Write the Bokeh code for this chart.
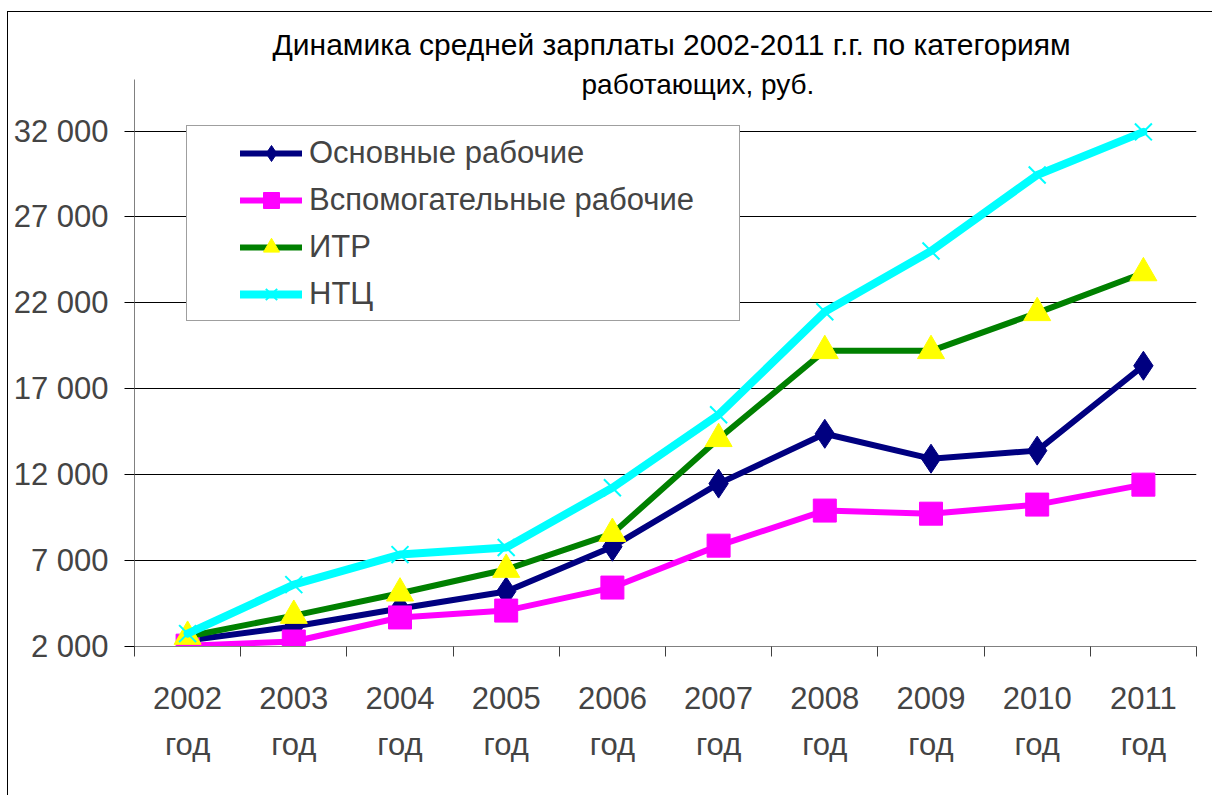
from bokeh.plotting import figure
from bokeh.models import (ColumnDataSource, Range1d, FixedTicker, LinearAxis,
                          Legend, LegendItem, Label)
from bokeh.embed import file_html
from bokeh.resources import INLINE

# ---------------- data ----------------
years = ["2002", "2003", "2004", "2005", "2006", "2007", "2008", "2009", "2010", "2011"]
year_suffix = "год"
osnovnye = [2350, 3160, 4210, 5200, 7810, 11480, 14380, 12930, 13400, 18340]
vspomogatelnye = [2050, 2290, 3690, 4090, 5430, 7870, 9910, 9730, 10260, 11420]
itr = [2580, 3800, 5100, 6480, 8570, 14090, 19210, 19210, 21420, 23740]
ntc = [2750, 5600, 7350, 7760, 11240, 15490, 21480, 25020, 29440, 31950]
series_names = ["Основные рабочие", "Вспомогательные рабочие", "ИТР", "НТЦ"]
y_ticks = [2000, 7000, 12000, 17000, 22000, 27000, 32000]
y_axis_bounds = (2000, 35000)
title_lines = ["Динамика средней зарплаты 2002-2011 г.г. по категориям", "работающих, руб."]

FONT = "Liberation Sans"

# layout constants (pixels)
FRAME_H = 626           # frame extends above the value axis so the title can sit inside it
AXIS_H = 567            # pixel height of the value-axis span 2000..35000
y_top = y_axis_bounds[0] + FRAME_H * (y_axis_bounds[1] - y_axis_bounds[0]) / AXIS_H

n = len(years)
xpos = [i + 0.5 for i in range(n)]  # category centres
src = ColumnDataSource(dict(x=xpos, year=years, s0=osnovnye, s1=vspomogatelnye, s2=itr, s3=ntc))

p = figure(width=1205, height=784, x_range=Range1d(0, n),
           y_range=Range1d(y_axis_bounds[0], y_top), output_backend="svg", toolbar_location=None,
           min_border_left=126, min_border_right=17, min_border_top=8, min_border_bottom=150,
           background_fill_color="white", border_fill_color="white", outline_line_color=None)
p.styles = {"border-top": "1px solid black", "border-left": "1px solid black",
            "margin-top": "11px", "margin-left": "7px"}

# two-line title (inside the frame, above the value axis)
p.add_layout(Label(x=138, y=602, x_units="screen", y_units="screen", text=title_lines[0],
                   text_align="left", text_baseline="alphabetic", text_font=FONT,
                   text_font_size="30px", text_color="black"))
p.add_layout(Label(x=447, y=562, x_units="screen", y_units="screen", text=title_lines[1],
                   text_align="left", text_baseline="alphabetic", text_font=FONT,
                   text_font_size="28px", text_color="black"))

# y axis
yax = p.yaxis[0]
yax.bounds = y_axis_bounds
yax.ticker = FixedTicker(ticks=y_ticks)
yax.major_label_overrides = {t: f"{t:,}".replace(",", " ") for t in y_ticks}
yax.major_tick_out = 10
yax.major_tick_in = 0
yax.minor_tick_line_color = None
yax.axis_line_color = "#808080"
yax.major_tick_line_color = "black"
yax.major_label_text_font = FONT
yax.major_label_text_font_size = "31px"
yax.major_label_standoff = 16
p.ygrid.grid_line_color = "black"
p.ygrid.grid_line_width = 1
p.xgrid.visible = False

# x axes: boundary ticks, years, "год"
bounds_axis = p.xaxis[0]
bounds_axis.ticker = FixedTicker(ticks=list(range(n + 1)))
bounds_axis.major_tick_in = 0
bounds_axis.major_tick_out = 10
bounds_axis.minor_tick_line_color = None
bounds_axis.axis_line_color = "#808080"
bounds_axis.major_tick_line_color = "#404040"
bounds_axis.major_label_text_font_size = "1px"
bounds_axis.major_label_standoff = 0
bounds_axis.major_label_text_alpha = 0

year_axis = LinearAxis(ticker=FixedTicker(ticks=xpos),
                       major_label_overrides={x: y for x, y in zip(xpos, years)},
                       axis_line_color=None, major_tick_line_color=None, minor_tick_line_color=None,
                       major_tick_in=0, major_tick_out=0, major_label_standoff=30,
                       major_label_text_font=FONT, major_label_text_font_size="31px")
god_axis = LinearAxis(ticker=FixedTicker(ticks=xpos),
                      major_label_overrides={x: year_suffix for x in xpos},
                      axis_line_color=None, major_tick_line_color=None, minor_tick_line_color=None,
                      major_tick_in=0, major_tick_out=0, major_label_standoff=15,
                      major_label_text_font=FONT, major_label_text_font_size="31px")
p.below = [bounds_axis, year_axis, god_axis]

# series
styles = [
    dict(color="#000080", lw=6, marker="diamond", size=29, fill="#000080", mline="#000080", mlw=1),
    dict(color="#FF00FF", lw=6, marker="square", size=23, fill="#FF00FF", mline="#FF00FF", mlw=1),
    dict(color="#008000", lw=6, marker="triangle", size=27, fill="#FFFF00", mline="#FFFF00", mlw=1),
    dict(color="#00FFFF", lw=8, marker="x", size=24, fill="#00FFFF", mline="#00FFFF", mlw=2),
]
cols = ["s0", "s1", "s2", "s3"]
items = []
for name, col, st in zip(series_names, cols, styles):
    lr = p.line("x", col, source=src, line_color=st["color"], line_width=st["lw"],
                line_join="round", line_cap="round")
    sr = p.scatter("x", col, source=src, marker=st["marker"], size=st["size"],
                   fill_color=st["fill"], line_color=st["mline"], line_width=st["mlw"])
    items.append(LegendItem(label=name, renderers=[lr, sr]))

# legend box (frame) and legend items
box_r = p.line(x=[], y=[], line_alpha=0)
box = Legend(items=[LegendItem(label=" ", renderers=[box_r])], location=(52, 325),
             glyph_width=1, glyph_height=194, label_height=194, label_width=551,
             label_standoff=0, padding=0, margin=0, border_line_color="#404040",
             border_line_width=1, background_fill_color="white", background_fill_alpha=1,
             label_text_font_size="10px")
p.add_layout(box)

legend = Legend(items=items, location=(106, 332), orientation="vertical",
                glyph_width=62, glyph_height=40, label_height=40, label_standoff=7,
                spacing=7, padding=0, margin=0, border_line_color=None,
                background_fill_alpha=0, label_text_font=FONT, label_text_font_size="31px")
p.add_layout(legend)

open("out.html", "w").write(file_html(p, INLINE))
